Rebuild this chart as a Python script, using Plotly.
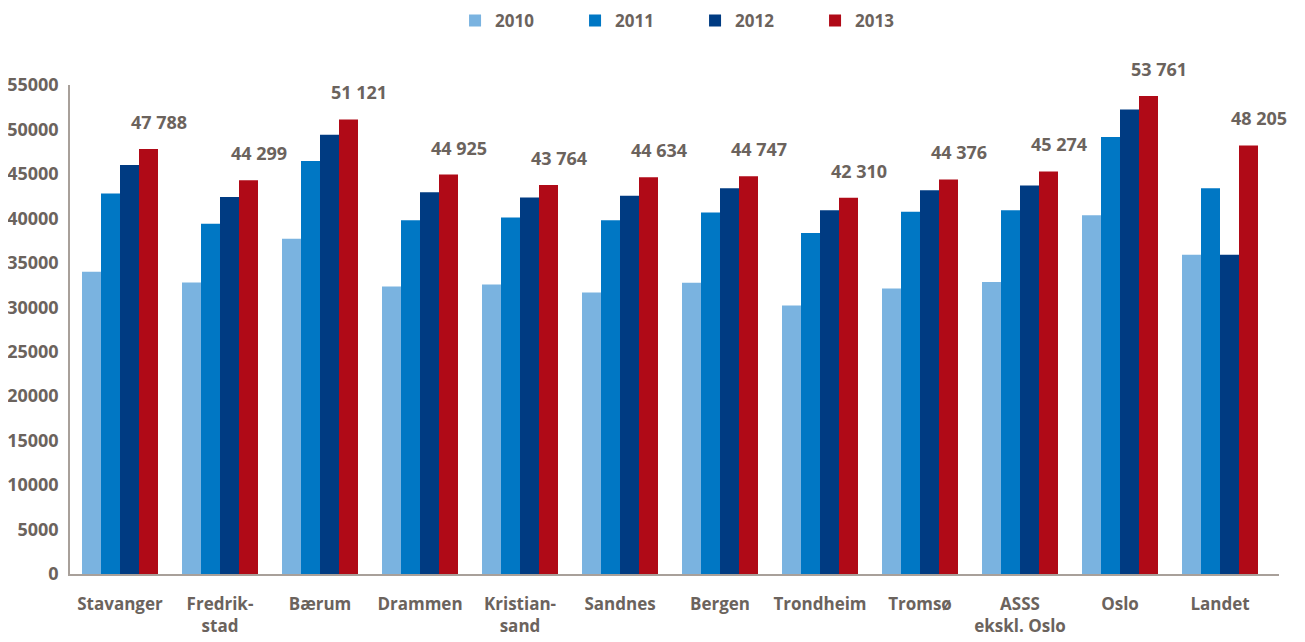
import plotly.graph_objects as go

categories = ["Stavanger", "Fredrik-<br>stad", "Bærum", "Drammen", "Kristian-<br>sand",
              "Sandnes", "Bergen", "Trondheim", "Tromsø", "ASSS<br>ekskl. Oslo", "Oslo", "Landet"]
years = ["2010", "2011", "2012", "2013"]
v2010 = [34000, 32800, 37700, 32350, 32550, 31650, 32750, 30200, 32100, 32850, 40350, 35900]
v2011 = [42800, 39400, 46450, 39800, 40100, 39800, 40650, 38350, 40750, 40900, 49150, 43400]
v2012 = [46000, 42400, 49400, 42950, 42350, 42550, 43400, 40900, 43150, 43700, 52250, 35900]
v2013 = [47788, 44299, 51121, 44925, 43764, 44634, 44747, 42310, 44376, 45274, 53761, 48205]
labels2013 = ["47 788", "44 299", "51 121", "44 925", "43 764", "44 634", "44 747",
              "42 310", "44 376", "45 274", "53 761", "48 205"]
colors = ["#7AB3E0", "#0077C4", "#003B82", "#B00A17"]
txt = "#6B635D"
font_family = "Open Sans, Noto Sans, sans-serif"

fig = go.Figure()
for name, vals, col in zip(years, [v2010, v2011, v2012, v2013], colors):
    fig.add_trace(go.Bar(x=categories, y=vals, name=name, marker_color=col,
                         marker_line_width=0))

for c, v, t in zip(categories, v2013, labels2013):
    fig.add_annotation(x=c, y=v, xref="x", yref="y", text=t, showarrow=False,
                       xshift=39, yshift=13, yanchor="bottom",
                       font=dict(family=font_family, size=18, color=txt, weight="bold"))

fig.update_layout(
    width=1297, height=634,
    margin=dict(l=62, r=26, t=77, b=68, autoexpand=False),
    plot_bgcolor="white", paper_bgcolor="white",
    barmode="group", bargap=0.24, bargroupgap=0,
    font=dict(family=font_family, color=txt, size=17, weight="bold"),
    legend=dict(orientation="h", x=0.517, xanchor="center", y=1.168, yanchor="top",
                entrywidth=75, font=dict(size=17, color=txt, weight="bold"),
                traceorder="normal"),
    showlegend=True,
)
fig.update_xaxes(showline=True, linecolor="#A8A09A", linewidth=1.5, showgrid=False,
                 ticks="", range=[-0.5, 11.59], ticklabelstandoff=14, automargin=False,
                 tickfont=dict(size=17, color=txt, weight="bold"))
fig.update_yaxes(showline=True, linecolor="#A8A09A", linewidth=1.5, showgrid=False,
                 range=[0, 55000], dtick=5000, tickformat="d", ticks="",
                 zeroline=False, ticklabelstandoff=6, automargin=False,
                 tickfont=dict(size=18, color=txt, weight="bold"))

fig.write_html("out.html")
